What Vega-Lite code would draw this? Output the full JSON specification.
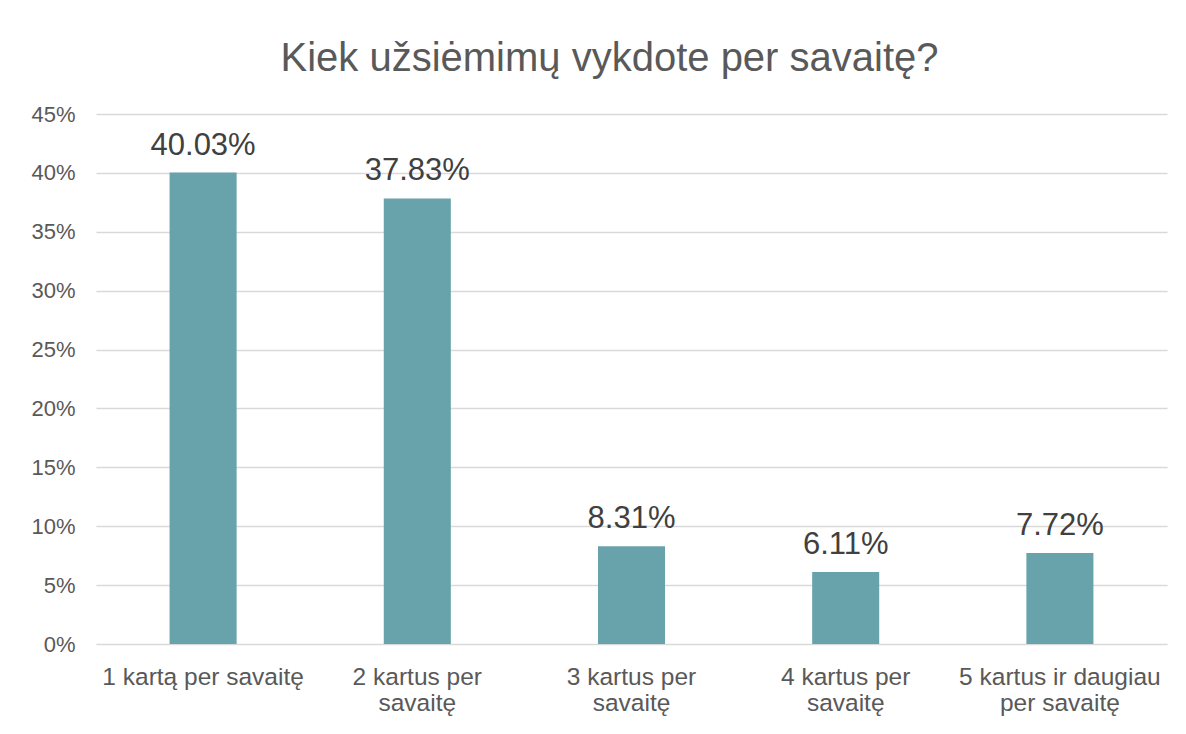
{
  "$schema": "https://vega.github.io/schema/vega-lite/v6.json",
  "autosize": "none",
  "width": 1071,
  "height": 530,
  "padding": {"left": 96, "top": 114, "right": 19, "bottom": 90},
  "background": "white",
  "title": {
    "text": "Kiek užsiėmimų vykdote per savaitę?",
    "font": "Liberation Sans",
    "fontSize": 40,
    "fontWeight": "normal",
    "color": "#595959",
    "anchor": "middle",
    "baseline": "alphabetic",
    "offset": -8,
    "dx": -22
  },
  "data": {
    "values": [
      {"kat": "1 kartą per savaitę", "v": 0.4003},
      {"kat": "2 kartus per|savaitę", "v": 0.3783},
      {"kat": "3 kartus per|savaitę", "v": 0.0831},
      {"kat": "4 kartus per|savaitę", "v": 0.0611},
      {"kat": "5 kartus ir daugiau|per savaitę", "v": 0.0772}
    ]
  },
  "config": {
    "view": {"stroke": null},
    "font": "Liberation Sans"
  },
  "encoding": {
    "x": {
      "field": "kat",
      "type": "nominal",
      "sort": null,
      "scale": {"paddingInner": 0, "paddingOuter": 0},
      "axis": {
        "title": null,
        "labelAngle": 0,
        "labelExpr": "split(datum.value, '|')",
        "labelFont": "Liberation Sans",
        "labelFontSize": 24.5,
        "labelLineHeight": 26,
        "labelLimit": 400,
        "labelColor": "#595959",
        "labelPadding": 21,
        "labelBaseline": "top",
        "ticks": false,
        "domain": false,
        "grid": false
      }
    },
    "y": {
      "field": "v",
      "type": "quantitative",
      "scale": {"domain": [0, 0.45]},
      "axis": {
        "title": null,
        "format": ".0%",
        "values": [0, 0.05, 0.1, 0.15, 0.2, 0.25, 0.3, 0.35, 0.4, 0.45],
        "labelFont": "Liberation Sans",
        "labelFontSize": 22,
        "labelColor": "#595959",
        "labelPadding": 21,
        "ticks": false,
        "domain": false,
        "grid": true,
        "gridColor": "#D9D9D9",
        "gridWidth": 1.5
      }
    }
  },
  "layer": [
    {
      "mark": {"type": "bar", "color": "#68A2AA", "width": {"band": 0.313}}
    },
    {
      "mark": {"type": "text", "baseline": "alphabetic", "dy": -18, "fontSize": 31, "color": "#404040", "font": "Liberation Sans"},
      "encoding": {
        "text": {"field": "v", "type": "quantitative", "format": ".2%"}
      }
    }
  ]
}
